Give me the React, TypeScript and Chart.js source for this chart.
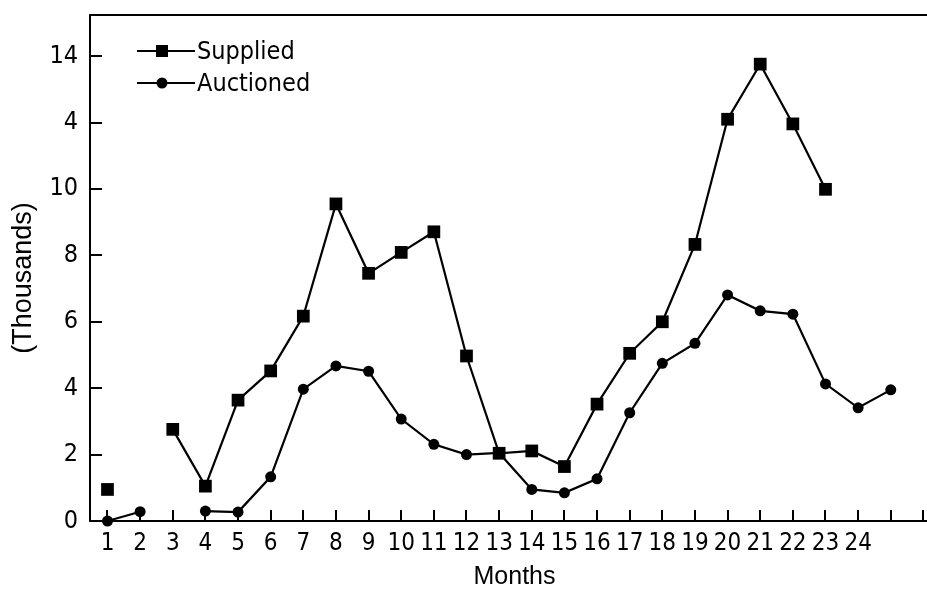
import React, { useEffect, useRef } from "react";
import { Chart, registerables } from "chart.js";

Chart.register(...registerables);

const months = [1, 2, 3, 4, 5, 6, 7, 8, 9, 10, 11, 12, 13, 14, 15, 16, 17, 18, 19, 20, 21, 22, 23, 24, 25];
const supplied = [0.95, null, 2.76, 1.05, 3.64, 4.52, 6.17, 9.55, 7.46, 8.09, 8.71, 4.97, 2.04, 2.11, 1.64, 3.52, 5.05, 6.0, 8.33, 12.1, 13.76, 11.96, 9.99, null, null];
const auctioned = [0, 0.28, null, 0.3, 0.27, 1.33, 3.97, 4.67, 4.51, 3.07, 2.31, 2.0, 2.05, 0.95, 0.85, 1.27, 3.26, 4.75, 5.35, 6.81, 6.33, 6.23, 4.13, 3.41, 3.95];

const xTickValues = [1, 2, 3, 4, 5, 6, 7, 8, 9, 10, 11, 12, 13, 14, 15, 16, 17, 18, 19, 20, 21, 22, 23, 24, 25, 26];
const xTickLabels = ["1", "2", "3", "4", "5", "6", "7", "8", "9", "10", "11", "12", "13", "14", "15", "16", "17", "18", "19", "20", "21", "22", "23", "24", "", ""];
const yTickValues = [0, 2, 4, 6, 8, 10, 12, 14];
const yTickLabels = ["0", "2", "4", "6", "8", "10", "4", "14"];

const seriesNames = ["Supplied", "Auctioned"];
const xTitle = "Months";
const yTitle = "(Thousands)";

const TICK_FONT = "'DejaVu Sans Condensed', 'DejaVu Sans', sans-serif";
const TITLE_FONT = "'Liberation Sans', Arial, sans-serif";

const decorPlugin = {
  id: "decor",
  afterDraw(chart: any) {
    const { ctx, chartArea, scales } = chart;
    const xs = scales.x;
    const ys = scales.y;
    ctx.save();
    ctx.strokeStyle = "#000";
    ctx.fillStyle = "#000";
    // top border
    ctx.lineWidth = 2;
    ctx.beginPath();
    ctx.moveTo(chartArea.left, chartArea.top);
    ctx.lineTo(chartArea.right, chartArea.top);
    ctx.stroke();
    // inward ticks
    ctx.lineWidth = 2;
    xTickValues.forEach((v) => {
      const px = Math.round(xs.getPixelForValue(v));
      ctx.beginPath();
      ctx.moveTo(px, chartArea.bottom);
      ctx.lineTo(px, chartArea.bottom - 11);
      ctx.stroke();
    });
    yTickValues.forEach((v) => {
      const py = Math.round(ys.getPixelForValue(v));
      ctx.beginPath();
      ctx.moveTo(chartArea.left, py);
      ctx.lineTo(chartArea.left + 12, py);
      ctx.stroke();
    });
    // legend
    const lx0 = chartArea.left + 47;
    const lx1 = chartArea.left + 105;
    const mx = chartArea.left + 72;
    const rows = [chartArea.top + 36, chartArea.top + 68];
    ctx.font = `25px ${TICK_FONT}`;
    ctx.textBaseline = "middle";
    ctx.textAlign = "left";
    rows.forEach((ry, i) => {
      ctx.lineWidth = 2;
      ctx.beginPath();
      ctx.moveTo(lx0, ry);
      ctx.lineTo(lx1, ry);
      ctx.stroke();
      if (i === 0) {
        ctx.fillRect(mx - 6, ry - 6, 12, 12);
      } else {
        ctx.beginPath();
        ctx.arc(mx, ry, 5.5, 0, Math.PI * 2);
        ctx.fill();
      }
      ctx.fillText(seriesNames[i], lx1 + 2, ry + 1);
    });
    // axis titles
    ctx.font = `25px ${TITLE_FONT}`;
    ctx.textAlign = "center";
    ctx.textBaseline = "middle";
    ctx.fillText(xTitle, (chartArea.left + chartArea.right) / 2 + 6, 577);
    ctx.save();
    ctx.translate(24, 278);
    ctx.rotate(-Math.PI / 2);
    ctx.font = `27px ${TITLE_FONT}`;
    ctx.fillText(yTitle, 0, 0);
    ctx.restore();
    ctx.restore();
  },
};

const zeroPad = (s: any) => {
  s.paddingTop = 0;
  s.paddingBottom = 0;
  s.paddingLeft = 0;
  s.paddingRight = 0;
};

export default function App() {
  const ref = useRef<HTMLCanvasElement | null>(null);
  useEffect(() => {
    if (!ref.current) return;
    const chart = new Chart(ref.current, {
      type: "line",
      data: {
        datasets: [
          {
            label: seriesNames[0],
            data: months.map((m, i) => ({ x: m, y: supplied[i] })),
            borderColor: "#000",
            backgroundColor: "#000",
            borderWidth: 2.2,
            pointStyle: "rect",
            pointRadius: 9,
            pointBorderWidth: 0,
            spanGaps: false,
            clip: false,
          },
          {
            label: seriesNames[1],
            data: months.map((m, i) => ({ x: m, y: auctioned[i] })),
            borderColor: "#000",
            backgroundColor: "#000",
            borderWidth: 2.2,
            pointStyle: "circle",
            pointRadius: 5.5,
            pointBorderWidth: 0,
            spanGaps: false,
            clip: false,
          },
        ],
      },
      options: {
        animation: false,
        responsive: false,
        devicePixelRatio: 1,
        layout: { autoPadding: false, padding: { top: 15, right: 0, left: 0, bottom: 0 } },
        plugins: { legend: { display: false }, tooltip: { enabled: false } },
        scales: {
          x: {
            type: "linear",
            min: 0.464,
            max: 26.11,
            afterBuildTicks: (s: any) => {
              s.ticks = xTickValues.map((v) => ({ value: v }));
            },
            afterFit: (s: any) => {
              s.height = 68;
              zeroPad(s);
            },
            grid: { display: false, drawTicks: false },
            border: { display: true, color: "#000", width: 2 },
            ticks: {
              color: "#000",
              padding: 8,
              maxRotation: 0,
              autoSkip: false,
              font: { family: TICK_FONT, size: 24 },
              callback: (v: any) => {
                const i = xTickValues.indexOf(Number(v));
                return i >= 0 ? xTickLabels[i] : "";
              },
            },
          },
          y: {
            type: "linear",
            min: 0,
            max: 15.24,
            afterBuildTicks: (s: any) => {
              s.ticks = yTickValues.map((v) => ({ value: v }));
            },
            afterFit: (s: any) => {
              s.width = 90;
              zeroPad(s);
            },
            grid: { display: false, drawTicks: false },
            border: { display: true, color: "#000", width: 2 },
            ticks: {
              color: "#000",
              padding: 12,
              autoSkip: false,
              font: { family: TICK_FONT, size: 25 },
              callback: (v: any) => {
                const i = yTickValues.indexOf(Number(v));
                return i >= 0 ? yTickLabels[i] : "";
              },
            },
          },
        },
      },
      plugins: [decorPlugin],
    } as any);
    return () => chart.destroy();
  }, []);
  return (
    <div style={{ position: "fixed", left: 0, top: 0, width: 927, height: 589, background: "#fff" }}>
      <canvas ref={ref} width={927} height={589} style={{ display: "block" }} />
    </div>
  );
}
